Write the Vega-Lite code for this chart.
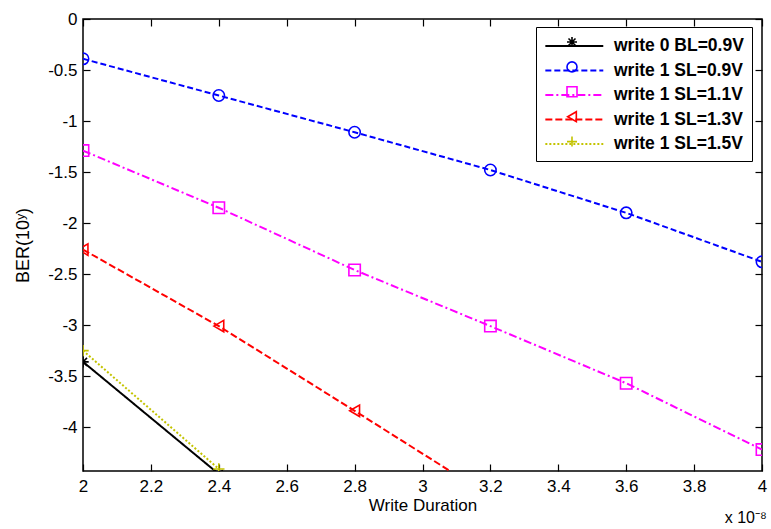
{
  "$schema": "https://vega.github.io/schema/vega-lite/v6.json",
  "width": 679,
  "height": 452,
  "autosize": "none",
  "padding": {"left": 83, "top": 19, "right": 9, "bottom": 58},
  "background": "white",
  "config": {
    "view": {"stroke": "black", "strokeWidth": 1.5},
    "font": "Liberation Sans",
    "axis": {
      "labelFont": "Liberation Sans",
      "labelFontSize": 17,
      "labelColor": "black",
      "titleFont": "Liberation Sans",
      "titleFontSize": 17,
      "titleFontWeight": "normal",
      "titleColor": "black",
      "domain": false,
      "grid": false,
      "tickColor": "black",
      "tickWidth": 1.2
    }
  },
  "title": {
    "text": "x 10⁻⁸",
    "orient": "bottom",
    "anchor": "end",
    "font": "Liberation Sans",
    "fontSize": 16,
    "fontWeight": "normal",
    "color": "black",
    "offset": -3
  },
  "data": {
    "values": [
      {"series": "write 0 BL=0.9V", "x": 2.0, "y": -3.36},
      {"series": "write 0 BL=0.9V", "x": 2.4, "y": -4.46},
      {"series": "write 1 SL=0.9V", "x": 2.0, "y": -0.39},
      {"series": "write 1 SL=0.9V", "x": 2.4, "y": -0.75},
      {"series": "write 1 SL=0.9V", "x": 2.8, "y": -1.11},
      {"series": "write 1 SL=0.9V", "x": 3.2, "y": -1.48},
      {"series": "write 1 SL=0.9V", "x": 3.6, "y": -1.90},
      {"series": "write 1 SL=0.9V", "x": 4.0, "y": -2.38},
      {"series": "write 1 SL=1.1V", "x": 2.0, "y": -1.29},
      {"series": "write 1 SL=1.1V", "x": 2.4, "y": -1.85},
      {"series": "write 1 SL=1.1V", "x": 2.8, "y": -2.46},
      {"series": "write 1 SL=1.1V", "x": 3.2, "y": -3.01},
      {"series": "write 1 SL=1.1V", "x": 3.6, "y": -3.57},
      {"series": "write 1 SL=1.1V", "x": 4.0, "y": -4.22},
      {"series": "write 1 SL=1.3V", "x": 2.0, "y": -2.26},
      {"series": "write 1 SL=1.3V", "x": 2.4, "y": -3.01},
      {"series": "write 1 SL=1.3V", "x": 2.8, "y": -3.84},
      {"series": "write 1 SL=1.3V", "x": 3.2, "y": -4.68},
      {"series": "write 1 SL=1.5V", "x": 2.0, "y": -3.25},
      {"series": "write 1 SL=1.5V", "x": 2.4, "y": -4.41}
    ]
  },
  "layer": [
    {
      "mark": {"type": "line", "clip": true, "strokeWidth": 2},
      "encoding": {
        "x": {
          "field": "x", "type": "quantitative",
          "scale": {"domain": [2, 4], "nice": false, "zero": false},
          "axis": {
            "title": "Write Duration",
            "values": [2, 2.2, 2.4, 2.6, 2.8, 3, 3.2, 3.4, 3.6, 3.8, 4],
            "labelExpr": "format(datum.value, '~g')",
            "tickSize": -7,
            "labelPadding": 14,
            "titlePadding": 3,
            "labelFlush": false,
            "labelOverlap": false
          }
        },
        "y": {
          "field": "y", "type": "quantitative",
          "scale": {"domain": [-4.43, 0], "nice": false, "zero": false},
          "axis": {
            "title": "BER(10ʸ)",
            "titleFontSize": 18,
            "values": [0, -0.5, -1, -1.5, -2, -2.5, -3, -3.5, -4],
            "labelExpr": "replace(format(datum.value, '~g'), '−', '-')",
            "tickSize": -7,
            "labelPadding": 13,
            "titlePadding": 15,
            "labelFlush": false,
            "labelOverlap": false
          }
        },
        "color": {
          "field": "series", "type": "nominal",
          "scale": {"range": ["#000000", "#0000ff", "#ff00ff", "#ff0000", "#c3c300"]},
          "legend": {
            "title": null,
            "orient": "none",
            "legendX": 453,
            "legendY": 8,
            "symbolType": "M-1,0H5",
            "symbolSize": 373,
            "symbolStrokeWidth": 2,
            "labelFont": "Liberation Sans",
            "labelFontSize": 17.5,
            "labelFontWeight": "bold",
            "labelColor": "black",
            "labelOffset": 48,
            "rowPadding": 4.5,
            "padding": 8,
            "fillColor": "white",
            "strokeColor": "black",
            "labelLimit": 300
          }
        },
        "strokeDash": {
          "field": "series", "type": "nominal",
          "scale": {"range": [[1, 0], [6, 3], [8, 3, 2, 3], [7, 3], [2, 2]]},
          "legend": {
            "title": null,
            "orient": "none",
            "legendX": 453,
            "legendY": 8,
            "symbolType": "M-1,0H5",
            "symbolSize": 373,
            "symbolStrokeWidth": 2,
            "labelFont": "Liberation Sans",
            "labelFontSize": 17.5,
            "labelFontWeight": "bold",
            "labelColor": "black",
            "labelOffset": 48,
            "rowPadding": 4.5,
            "padding": 8,
            "fillColor": "white",
            "strokeColor": "black",
            "labelLimit": 300
          }
        }
      }
    },
    {
      "transform": [{"filter": "datum.y > -10"}],
      "mark": {"type": "point", "clip": true, "filled": false, "strokeWidth": 1.6, "size": 130, "opacity": 1},
      "encoding": {
        "x": {
          "field": "x", "type": "quantitative",
          "axis": {"orient": "top", "labels": false, "title": null, "tickSize": -7, "values": [2, 2.2, 2.4, 2.6, 2.8, 3, 3.2, 3.4, 3.6, 3.8, 4]}
        },
        "y": {
          "field": "y", "type": "quantitative",
          "axis": {"orient": "right", "labels": false, "title": null, "tickSize": -7, "values": [0, -0.5, -1, -1.5, -2, -2.5, -3, -3.5, -4]}
        },
        "stroke": {
          "field": "series", "type": "nominal",
          "scale": {"range": ["#000000", "#0000ff", "#ff00ff", "#ff0000", "#c3c300"]},
          "legend": {
            "title": null,
            "orient": "none",
            "legendX": 481,
            "legendY": 15,
            "labelExpr": "''",
            "labelFontSize": 16,
            "rowPadding": 6.9,
            "padding": 0,
            "symbolStrokeWidth": 1.6
          }
        },
        "shape": {
          "field": "series", "type": "nominal",
          "scale": {"range": ["M-1,0H1M0,-1V1M-0.7,-0.7L0.7,0.7M-0.7,0.7L0.7,-0.7", "circle", "square", "triangle-left", "M-1,0H1M0,-1V1"]},
          "legend": {
            "title": null,
            "orient": "none",
            "legendX": 481,
            "legendY": 15,
            "labelExpr": "''",
            "labelFontSize": 16,
            "rowPadding": 6.9,
            "padding": 0,
            "symbolStrokeWidth": 1.6
          }
        }
      }
    }
  ],
  "resolve": {"axis": {"x": "independent", "y": "independent"}}
}
